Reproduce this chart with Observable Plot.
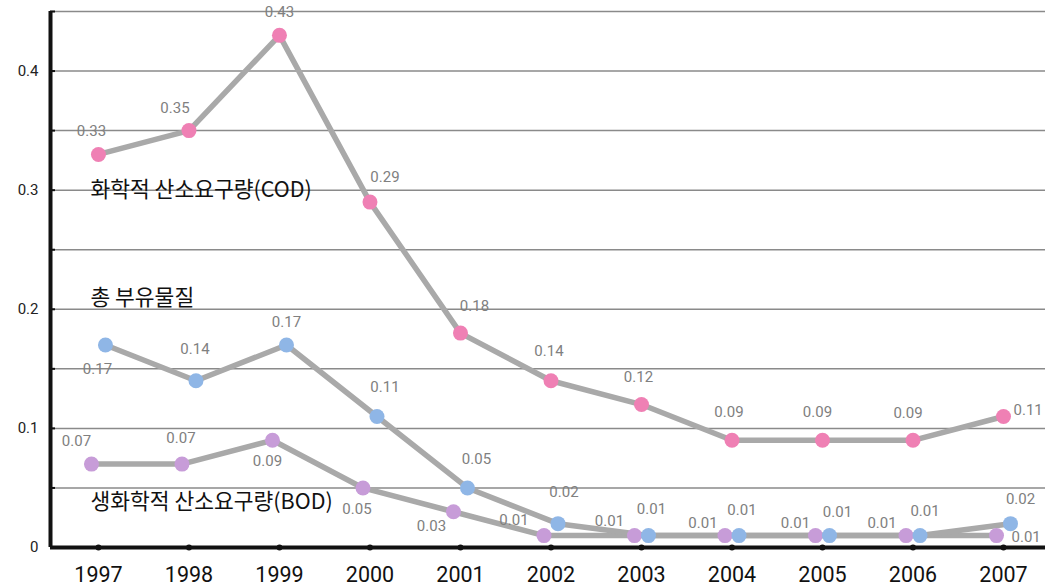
<!DOCTYPE html>
<html>
<head>
<meta charset="utf-8">
<script src="https://cdn.jsdelivr.net/npm/d3@7"></script>
<script src="https://cdn.jsdelivr.net/npm/@observablehq/plot@0.6"></script>
<style>
  html, body { margin: 0; padding: 0; background: #fff; }
  #chart svg { display: block; }
</style>
</head>
<body>
<div id="chart"></div>
<script>
// ---- Data ----
const years = [1997, 1998, 1999, 2000, 2001, 2002, 2003, 2004, 2005, 2006, 2007];
const seriesNames = ["화학적 산소요구량(COD)", "총 부유물질", "생화학적 산소요구량(BOD)"];
const codValues = [0.33, 0.35, 0.43, 0.29, 0.18, 0.14, 0.12, 0.09, 0.09, 0.09, 0.11];
const tssValues = [0.17, 0.14, 0.17, 0.11, 0.05, 0.02, 0.01, 0.01, 0.01, 0.01, 0.02];
const bodValues = [0.07, 0.07, 0.09, 0.05, 0.03, 0.01, 0.01, 0.01, 0.01, 0.01, 0.01];
const yTickValues = [0, 0.1, 0.2, 0.3, 0.4];
const gridValues = [0.05, 0.1, 0.15, 0.2, 0.25, 0.3, 0.35, 0.4, 0.45];

// ---- Styles (kept apart from data) ----
const seriesKeys = ["COD", "TSS", "BOD"];
const seriesValues = {COD: codValues, TSS: tssValues, BOD: bodValues};
const dotColor = {COD: "#ef80b4", TSS: "#8fb6e6", BOD: "#c79cd8"};
const seriesShift = {COD: 0, TSS: 7, BOD: -7};
// label placements: [dx, dy, anchor]
const place = {
  COD: [[-7,-23],[-14,-22],[0,-23],[15,-25],[14,-27],[-2,-30],[-3,-27],[-3,-28],[-5,-28],[-5,-27],[10,-6,"start"]],
  TSS: [[-8,24],[-1,-32],[0,-23],[8,-29],[9,-29],[6,-31],[3,-26],[3,-25],[8,-23],[5,-24],[10,-24]],
  BOD: [[-15,-23],[-1,-26],[-5,21],[-6,21],[-22,14],[-30,-15],[-25,-14],[-22,-12],[-20,-12],[-24,-12],[15,2,"start"]]
};
const nameOffset = {COD: 36, TSS: -47, BOD: 38};

const rows = seriesKeys.flatMap((k) => years.map((y, i) => ({series: k, year: y, value: seriesValues[k][i], i})));

const font = "Roboto, 'Noto Sans CJK KR', sans-serif";

const marks = [
  Plot.ruleY(gridValues, {stroke: "#8a8a8a", strokeWidth: 1.5}),
  Plot.ruleY([0], {stroke: "#111", strokeWidth: 4}),
  Plot.axisY(gridValues, {tickSize: -5, stroke: "#111", strokeWidth: 2, text: null, label: null}),
  Plot.axisY(yTickValues, {tickSize: 0, tickPadding: 12, fontSize: 15, fill: "#222",
    tickFormat: (d) => d === 0 ? "0" : d.toFixed(1), label: null}),
  Plot.axisX(years, {tickSize: 0, tickPadding: 19, fontSize: 21.5, fill: "#111",
    tickFormat: (d) => String(d), label: null}),
  Plot.dot(years, {x: (d) => d, y: 0, r: 3, fill: "#111"})
];

for (const k of ["BOD", "TSS", "COD"]) {
  const data = rows.filter((r) => r.series === k);
  marks.push(Plot.line(data, {x: "year", y: "value", stroke: "#a9a9a9", strokeWidth: 5.5, dx: seriesShift[k], strokeLinejoin: "round"}));
}
for (const k of ["BOD", "TSS", "COD"]) {
  const data = rows.filter((r) => r.series === k);
  marks.push(Plot.dot(data, {x: "year", y: "value", r: 7.5, fill: dotColor[k], dx: seriesShift[k]}));
}
for (const r of rows) {
  const p = place[r.series][r.i];
  marks.push(Plot.text([r], {x: "year", y: "value", text: (d) => d.value.toFixed(2),
    dx: seriesShift[r.series] + p[0], dy: p[1], textAnchor: p[2] || "middle",
    fill: "#808080", fontSize: 15}));
}
seriesKeys.forEach((k, j) => {
  marks.push(Plot.text([{year: years[0], value: seriesValues[k][0], name: seriesNames[j]}], {
    x: "year", y: "value", text: "name", dx: -8, dy: nameOffset[k], textAnchor: "start",
    fill: "#111", fontSize: 21.5, fontFamily: "'Noto Sans CJK KR', sans-serif", letterSpacing: -0.3
  }));
});

const chart = Plot.plot({
  width: 1045,
  height: 587,
  marginLeft: 50,
  marginRight: 0,
  marginTop: 11,
  marginBottom: 40,
  style: {fontFamily: font, background: "#fff", overflow: "visible"},
  x: {type: "linear", domain: [1996.47, 2007.464]},
  y: {domain: [0, 0.45]},
  marks: [
    ...marks,
    Plot.ruleX([1996.47], {stroke: "#111", strokeWidth: 4, y1: 0, y2: 0.45})
  ]
});
document.getElementById("chart").appendChild(chart);
</script>
</body>
</html>
